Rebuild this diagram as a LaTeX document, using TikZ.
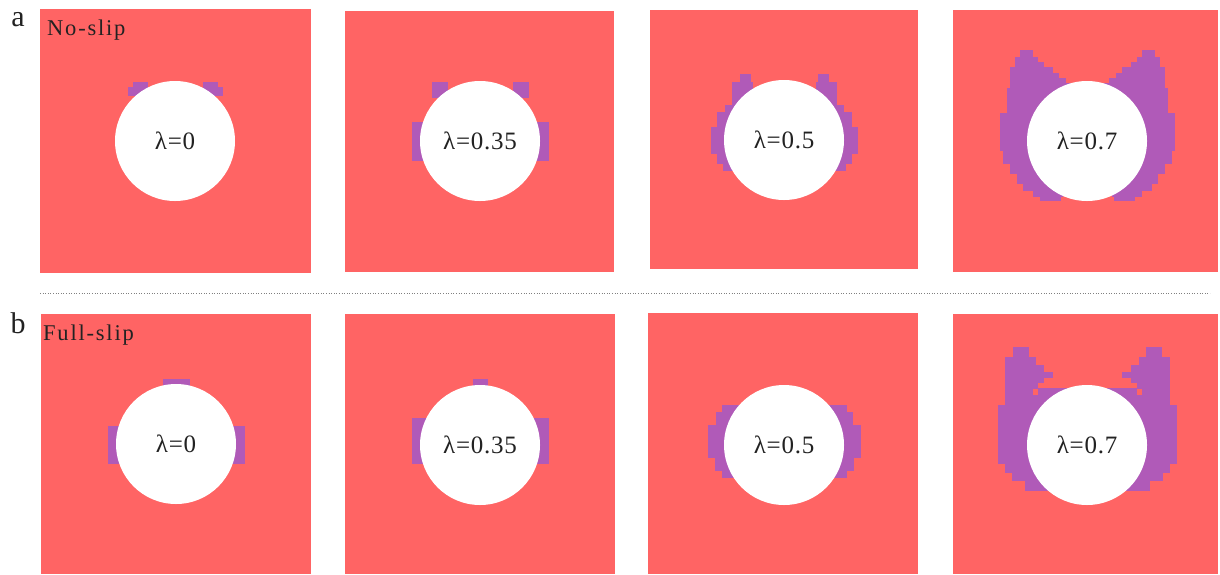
\documentclass[tikz,border=0pt]{standalone}
\usepackage{fontspec}
\setmainfont{Liberation Serif}
\definecolor{redf}{HTML}{FF6464}
\definecolor{purp}{HTML}{B05AB8}
\definecolor{txt}{HTML}{222222}
\tikzset{
  panel/.style={fill=redf, draw=none},
  lobe/.style={fill=purp, draw=purp, line width=0.4pt},
  hole/.style={circle, fill=white, draw=none, minimum size=120pt, inner sep=0pt,
    text=txt, font=\fontsize{25}{25}\selectfont\addfontfeature{LetterSpace=3}},
  tag/.style={text=txt, inner sep=0pt, font=\fontsize{30}{30}\selectfont},
  cond/.style={text=txt, inner sep=0pt, anchor=base west,
    font=\fontsize{22.5}{22.5}\selectfont\addfontfeature{LetterSpace=8}},
}
\newcommand{\mylobes}[3]{%
  \begin{scope}[shift={(#1,#2)}]
  \foreach \a/\b/\c/\d in {#3} {
    \fill[lobe] (\a,\b) rectangle (\c,\d);
    \fill[lobe] ({-1*(\a)},\b) rectangle ({-1*(\c)},\d);
  }
  \end{scope}}
\begin{document}
\begin{tikzpicture}[x=1pt,y=-1pt]
\useasboundingbox (0,0) rectangle (1220,574);
\fill[white] (0,0) rectangle (1220,574);
% panels
\fill[panel] (40,9) rectangle (311,273);
\fill[panel] (345,11) rectangle (614,272);
\fill[panel] (650,10) rectangle (918,269);
\fill[panel] (953,10) rectangle (1218,272);
\fill[panel] (41,314) rectangle (311,574);
\fill[panel] (345,314) rectangle (615,574);
\fill[panel] (648,313) rectangle (918,574);
\fill[panel] (953,314) rectangle (1218,574);
% purple zones, row a
\mylobes{175}{141}{-42/-59/-28/-54, -47/-54/-28/-46}
\mylobes{480}{141}{-48/-59/-33/-44, -68/-19/-50/19}
\mylobes{784}{140}{-44/-66/-34/-58, -52/-58/-32/-45, -52/-45/-24/-33,
  -59/-35/-24/-28, -67/-28/-24/-13, -73/-13/-24/13, -67/13/-24/23, -61/23/-24/30}
\mylobes{1087}{141}{-67/-91/-55/-84, -72/-84/-50/-79, -72/-79/-44/-74,
  -77/-74/-35/-68, -77/-68/-29/-63, -77/-63/-22/-58, -77/-58/-12/-53,
  -80/-53/0/-28, -87/-28/0/9, -84/9/0/22, -77/22/0/32, -70/32/0/42,
  -64/42/0/49, -54/49/-25/55, -47/55/-27/59}
% purple zones, row b
\mylobes{176}{444}{-13/-65/0/-57, -68/-18/-50/19}
\mylobes{480}{445}{-7/-66/0/-58, -68/-27/-50/18}
\mylobes{784}{445}{-62/-40/-30/-33, -68/-33/-30/-20, -76/-20/-30/12,
  -69/12/-30/25, -62/25/-30/32}
\mylobes{1087}{445}{-74/-98/-59/-88, -82/-88/-52/-80, -82/-80/-44/-73,
  -82/-73/-35/-68, -82/-68/-44/-63, -82/-63/-50/-57, -82/-57/-55/-50,
  -49/-57/-20/-50, -82/-50/0/-40, -89/-40/0/18, -82/18/0/27, -75/27/0/35,
  -62/35/-25/45}
% holes with labels
\node[hole] (a1) at (175,141) {λ=0};
\node[hole] (a2) at (480,141) {λ=0.35};
\node[hole] (a3) at (784,140) {λ=0.5};
\node[hole] (a4) at (1087,141) {λ=0.7};
\node[hole] (b1) at (176,444) {λ=0};
\node[hole] (b2) at (480,445) {λ=0.35};
\node[hole] (b3) at (784,445) {λ=0.5};
\node[hole] (b4) at (1087,445) {λ=0.7};
% tags
\node[tag] (ta) at (18,20) {a};
\node[tag] (tb) at (18,323) {b};
\node[cond] (ns) at (47,35) {No-slip};
\node[cond] (fs) at (43,340) {Full-slip};
% separator
\coordinate (sl) at (40,293);
\coordinate (sr) at (1210,293);
\draw[gray, dotted, line width=0.6pt] (sl) -- (sr);
\end{tikzpicture}
\end{document}
